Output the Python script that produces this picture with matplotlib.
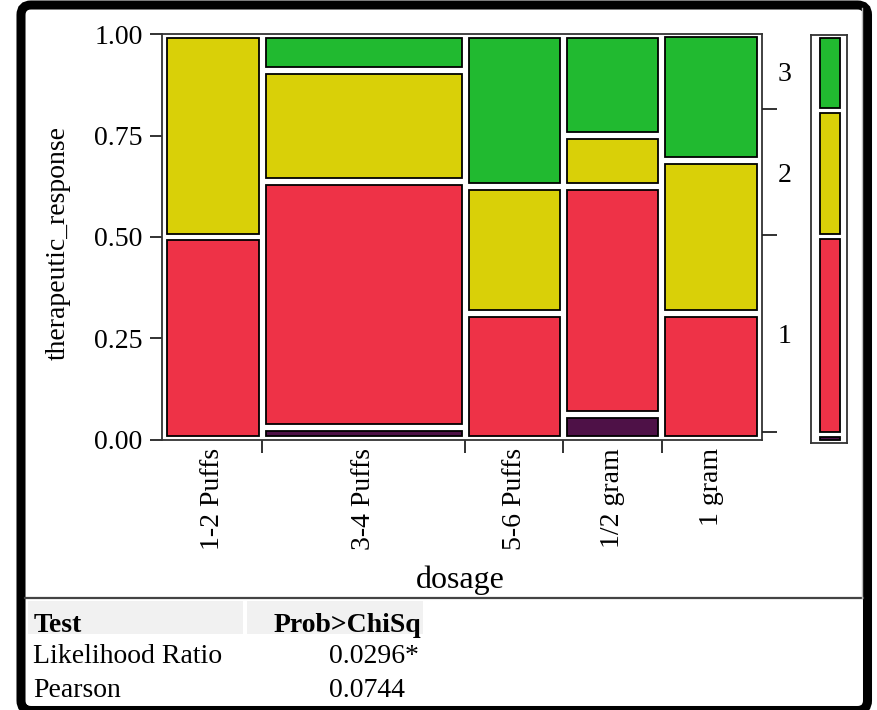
import matplotlib
matplotlib.use("Agg")
import matplotlib.pyplot as plt
import numpy as np
from matplotlib.patches import Rectangle, FancyBboxPatch
from matplotlib.transforms import IdentityTransform

plt.rcParams['font.family'] = ['Liberation Serif', 'DejaVu Serif']

# counts of therapeutic_response level per dosage group
dosage = ["1-2 Puffs", "3-4 Puffs", "5-6 Puffs", "1/2 gram", "1 gram"]
levels = ["0", "1", "2", "3"]
resp_0 = [0, 1, 0, 1, 0]
resp_1 = [8, 20, 5, 9, 5]
resp_2 = [8, 9, 5, 2, 6]
resp_3 = [0, 3, 6, 4, 5]
level_colors = ["#4E1147", "#EE3247", "#D9D008", "#21BA30"]

test_names = ["Likelihood Ratio", "Pearson"]
test_probs = ["0.0296", "0.0744"]
test_flags = ["*", ""]

W, H = 877, 710
fig = plt.figure(figsize=(W / 100, H / 100), dpi=100)


def fx(px):
    return px / W


def fy(py):
    return 1 - py / H


counts = np.array([resp_0, resp_1, resp_2, resp_3], dtype=float)  # level x group
n_group = counts.sum(axis=0)
bounds = np.concatenate([[0], np.cumsum(n_group) / n_group.sum()])
props = counts / n_group

ax_left, ax_top, ax_w, ax_h = 162, 34, 600, 406
ax = fig.add_axes([fx(ax_left), fy(ax_top + ax_h), ax_w / W, ax_h / H])
ax.set_xlim(-0.003, 1.003)
ax.set_ylim(0, 1)
dx = 3.5 / ax_w
dy = 3.5 / ax_h

for j in range(len(dosage)):
    cum = 0.0
    for k in range(len(levels)):
        p = props[k, j]
        if p > 0:
            ax.add_patch(Rectangle((bounds[j] + dx, cum + dy),
                                   bounds[j + 1] - bounds[j] - 2 * dx, p - 2 * dy,
                                   facecolor=level_colors[k], edgecolor="black", lw=1.3))
        cum += p

for s in ax.spines.values():
    s.set_color("#333333")
    s.set_linewidth(1.3)

# y axis
ax.set_yticks([0, 0.25, 0.5, 0.75, 1.0])
ax.set_yticklabels(["0.00", "0.25", "0.50", "0.75", "1.00"])
ax.tick_params(axis="y", length=9, width=1.3, pad=5, labelsize=20, color="#222222")

# x axis: ticks at group boundaries, labels at centers
ax.set_xticks(bounds[1:-1])
ax.set_xticklabels([])
ax.set_xticks((bounds[:-1] + bounds[1:]) / 2, minor=True)
ax.set_xticklabels(dosage, minor=True, rotation=90, va="top", ha="center")
ax.tick_params(axis="x", which="major", length=9, width=1.3, color="#222222")
ax.tick_params(axis="x", which="minor", length=0, pad=6, labelsize=20)

# right axis: marginal level boundaries
overall = counts.sum(axis=1) / counts.sum()
cum_overall = np.cumsum(overall)
ax2 = ax.twinx()
ax2.set_ylim(0, 1)
ax2.set_yticks(cum_overall[:-1])
ax2.set_yticklabels([])
mids = cum_overall - overall / 2
show = overall > 0.05
ax2.set_yticks(mids[show], minor=True)
ax2.set_yticklabels([l for l, sh in zip(levels, show) if sh], minor=True)
ax2.tick_params(axis="y", which="major", length=11, width=1.3, color="#222222")
ax2.tick_params(axis="y", which="minor", length=0, pad=11, labelsize=20)
for s in ax2.spines.values():
    s.set_visible(False)

# marginal bar
axm = fig.add_axes([fx(811), fy(443), 36 / W, 408 / H])
axm.set_xlim(0, 1)
axm.set_ylim(0, 1)
mdy = 2.5 / 408
cum = 0.0
for k in range(len(levels)):
    axm.add_patch(Rectangle((0.25, cum + mdy), 0.55, overall[k] - 2 * mdy,
                            facecolor=level_colors[k], edgecolor="black", lw=1.3))
    cum += overall[k]
axm.set_xticks([])
axm.set_yticks([])
for s in axm.spines.values():
    s.set_color("#333333")
    s.set_linewidth(1.3)

# axis titles
fig.text(fx(58), fy(243), "therapeutic_response", rotation=90, ha="center", va="center", fontsize=20)
fig.text(fx(460), fy(588), "dosage", ha="center", va="baseline", fontsize=23)

# divider between plot and table
fig.add_artist(plt.Line2D([fx(25), fx(863)], [fy(598), fy(598)], color="#444444", lw=1.6))
fig.add_artist(plt.Line2D([fx(862), fx(862)], [fy(8), fy(598)], color="#BBBBBB", lw=1.0))

# table header backgrounds
fig.add_artist(Rectangle((fx(28), fy(634)), fx(243) - fx(28), fy(601) - fy(634),
                         transform=fig.transFigure, facecolor="#F1F1F1", edgecolor="none"))
fig.add_artist(Rectangle((fx(247), fy(634)), fx(423) - fx(247), fy(601) - fy(634),
                         transform=fig.transFigure, facecolor="#F1F1F1", edgecolor="none"))

fig.text(fx(34), fy(632), "Test", fontsize=20, fontweight="bold", va="baseline")
fig.text(fx(421), fy(632), "Prob>ChiSq", fontsize=20, fontweight="bold", va="baseline", ha="right")
for i, (name, prob, flag) in enumerate(zip(test_names, test_probs, test_flags)):
    yb = 663 + i * 34
    fig.text(fx(33), fy(yb), name, fontsize=20, va="baseline")
    fig.text(fx(405), fy(yb), prob, fontsize=20, va="baseline", ha="right")
    if flag:
        fig.text(fx(405), fy(yb), flag, fontsize=20, va="baseline", ha="left")

# black rounded outer frame
frame = FancyBboxPatch((21, -0.5), 846.5, 705.5, boxstyle="round,pad=0,rounding_size=10",
                       transform=IdentityTransform(), facecolor="none", edgecolor="black", lw=6.5)
fig.add_artist(frame)

fig.savefig("out.png", dpi=100, facecolor="white")
